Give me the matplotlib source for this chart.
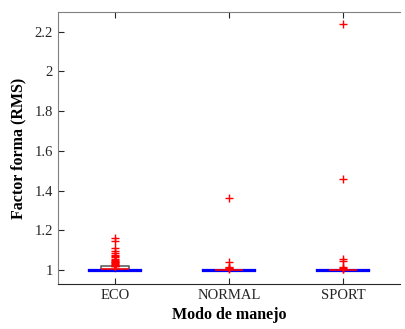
import matplotlib
matplotlib.use("Agg")
import matplotlib.pyplot as plt

plt.rcParams['font.family'] = ['Liberation Serif', 'DejaVu Serif']

categories = ["ECO", "NORMAL", "SPORT"]
q1 = [1.000, 0.997, 0.997]
q3 = [1.018, 1.002, 1.002]
med = [1.005, 0.999, 0.999]
whislo = [0.996, 0.996, 0.996]
whishi = [0.999, 0.998, 0.998]
fliers = [
    [1.161, 1.148, 1.109, 1.098, 1.087, 1.076, 1.070, 1.064, 1.057, 1.050,
     1.046, 1.042, 1.038, 1.034, 1.030, 1.027, 1.025, 1.022, 1.020, 1.018],
    [1.363, 1.042, 1.015, 1.010, 1.008, 1.005],
    [2.240, 1.459, 1.055, 1.045, 1.015, 1.010, 1.006, 1.003],
]
yticks = [1.0, 1.2, 1.4, 1.6, 1.8, 2.0, 2.2]
yticklabels = ["1", "1.2", "1.4", "1.6", "1.8", "2", "2.2"]

fig = plt.figure(figsize=(4.05, 3.29), dpi=100)
ax = fig.add_axes([0.143, 0.137, 0.845, 0.827])

stats = []
for i in range(len(categories)):
    stats.append(dict(label=categories[i], med=med[i], q1=q1[i], q3=q3[i],
                      whislo=whislo[i], whishi=whishi[i], fliers=fliers[i]))

ax.bxp(stats, positions=[1, 2, 3], widths=0.24, capwidths=0.46,
       boxprops=dict(color='#606060', linewidth=1.2),
       medianprops=dict(color='#ff0000', linewidth=1.2),
       whiskerprops=dict(color='#0000ff', linewidth=1.0),
       capprops=dict(color='#0000ff', linewidth=1.6),
       flierprops=dict(marker='+', markeredgecolor='#ff0000', markersize=6,
                       markeredgewidth=1.0, linestyle='none'))

ax.set_xlim(0.5, 3.5)
ax.set_ylim(0.93, 2.30)
ax.set_yticks(yticks)
ax.set_yticklabels(yticklabels)
ax.set_xticks([1, 2, 3])
ax.set_xticklabels(categories)
ax.tick_params(direction='in', length=4, width=0.8, labelsize=10.5, colors='#262626',
               top=True, right=False)
for s in ['top', 'left']:
    ax.spines[s].set_color('#808080')
ax.spines['bottom'].set_color('#262626')
ax.spines['right'].set_visible(False)

ax.set_xlabel("Modo de manejo", fontsize=11.5, fontweight='bold', labelpad=4)
ax.set_ylabel("Factor forma (RMS)", fontsize=11.5, fontweight='bold', labelpad=6)

fig.savefig("out.png", dpi=100)
